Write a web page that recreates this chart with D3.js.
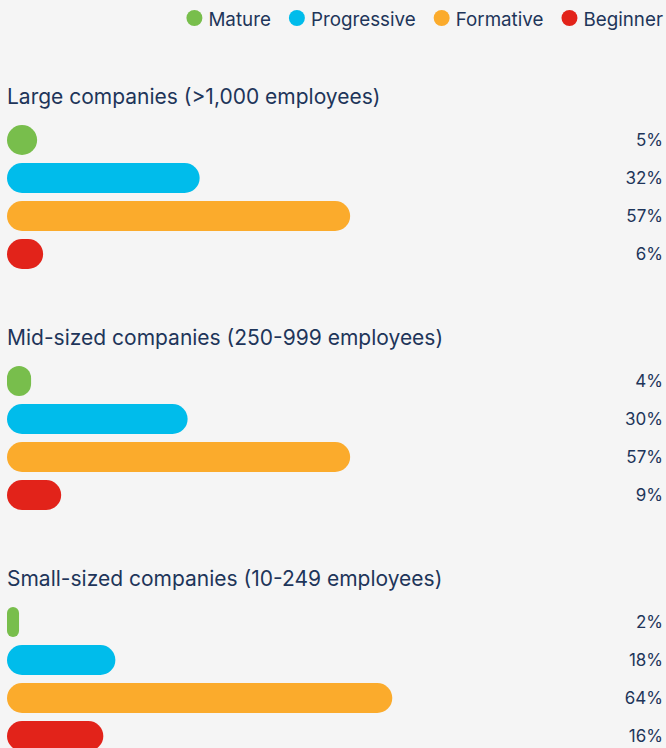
<!DOCTYPE html>
<html>
<head>
<meta charset="utf-8">
<script src="https://cdn.jsdelivr.net/npm/d3@7"></script>
<style>
  html, body { margin: 0; padding: 0; background: #f5f5f5; }
  svg { display: block; font-family: Inter, "Open Sans", sans-serif; }
</style>
</head>
<body>
<div id="chart"></div>
<script>
// data
var segments = ["Mature", "Progressive", "Formative", "Beginner"];
var groups = [
  "Large companies (>1,000 employees)",
  "Mid-sized companies (250-999 employees)",
  "Small-sized companies (10-249 employees)"
];
var largeValues = [5, 32, 57, 6];
var midValues = [4, 30, 57, 9];
var smallValues = [2, 18, 64, 16];
var allValues = [largeValues, midValues, smallValues];

var colors = ["#78be4c", "#00bceb", "#fbab2c", "#e2231a"];
var textColor = "#1e355a";

//Width and height
var w = 666;
var h = 748;

var svg = d3.select("#chart")
  .append("svg")
  .attr("width", w)
  .attr("height", h);

svg.append("rect").attr("width", w).attr("height", h).attr("fill", "#f5f5f5");

var x = d3.scaleLinear().domain([0, 100]).range([7, 609]);
var color = d3.scaleOrdinal().domain(segments).range(colors);

// title position for each group
var groupY = d3.scalePoint().domain(groups).range([97, 579]);

// rows inside one group
var rowY = d3.scaleBand().domain(segments).range([0, 144]).paddingInner(0.21);

////////////////////////////////////////////////////////////////////
// legend, laid out right to left
////////////////////////////////////////////////////////////////////
var legend = svg.append("g").attr("class", "legend");
var lx = 663;
segments.slice().reverse().forEach(function(s) {
  var t = legend.append("text")
    .attr("y", 19)
    .attr("dy", "0.35em")
    .attr("font-size", 18.8)
    .attr("fill", textColor)
    .attr("text-anchor", "end")
    .attr("x", lx)
    .text(s);
  var tw = t.node().getComputedTextLength();
  legend.append("circle")
    .attr("cx", lx - tw - 14)
    .attr("cy", 18)
    .attr("r", 8)
    .attr("fill", color(s));
  lx = lx - tw - 14 - 8 - 18;
});

////////////////////////////////////////////////////////////////////
// groups
////////////////////////////////////////////////////////////////////
var g = svg.selectAll("g.group")
  .data(groups)
  .enter()
  .append("g")
  .attr("class", "group")
  .attr("transform", function(d) { return "translate(0," + groupY(d) + ")"; });

g.append("text")
  .attr("x", 7)
  .attr("y", 0)
  .attr("dy", "0.35em")
  .attr("font-size", 21)
  .attr("fill", textColor)
  .text(function(d) { return d; });

var rows = g.selectAll("g.row")
  .data(function(d, i) {
    return allValues[i].map(function(v, j) { return { seg: segments[j], value: v }; });
  })
  .enter()
  .append("g")
  .attr("class", "row")
  .attr("transform", function(d) { return "translate(0," + (28 + rowY(d.seg)) + ")"; });

rows.append("rect")
  .attr("x", x(0))
  .attr("y", 0)
  .attr("width", function(d) { return x(d.value) - x(0); })
  .attr("height", rowY.bandwidth())
  .attr("rx", function(d) { return Math.min((x(d.value) - x(0)) / 2, rowY.bandwidth() / 2); })
  .attr("fill", function(d) { return color(d.seg); });

rows.append("text")
  .attr("x", 663)
  .attr("y", rowY.bandwidth() / 2)
  .attr("dy", "0.35em")
  .attr("text-anchor", "end")
  .attr("font-size", 17)
  .attr("fill", textColor)
  .text(function(d) { return d.value + "%"; });
</script>
</body>
</html>
